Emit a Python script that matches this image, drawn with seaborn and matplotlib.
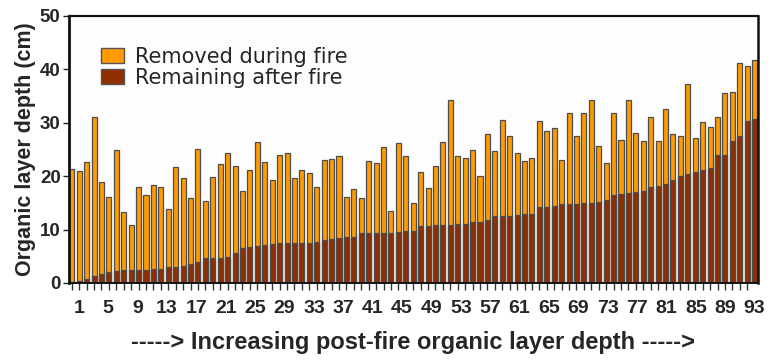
import matplotlib
matplotlib.use("Agg")
import matplotlib.pyplot as plt
import numpy as np
import pandas as pd
import seaborn as sns
from matplotlib.patches import Patch

sites = list(range(1, 94))
total_depth = [
    21.3, 20.9, 22.7, 31.1, 18.9, 16.0, 24.9, 13.3, 10.8, 18.0,
    16.5, 18.4, 18.0, 13.8, 21.7, 19.7, 15.9, 25.0, 15.3, 19.9,
    22.3, 24.3, 21.8, 17.3, 21.1, 26.4, 22.7, 19.2, 24.0, 24.3,
    19.7, 21.1, 20.6, 17.9, 23.1, 23.2, 23.7, 16.0, 17.6, 15.9,
    22.9, 22.4, 25.4, 13.5, 26.2, 23.7, 15.0, 20.7, 17.7, 21.9,
    26.4, 34.2, 23.7, 23.4, 24.9, 20.0, 27.8, 24.7, 30.5, 27.6,
    24.3, 22.8, 23.4, 30.4, 28.4, 29.0, 23.1, 31.9, 27.6, 31.8,
    34.3, 25.6, 22.4, 31.9, 26.8, 34.2, 28.1, 26.5, 31.0, 26.5,
    32.6, 27.8, 27.6, 37.3, 27.1, 30.1, 29.2, 31.0, 35.5, 35.8,
    41.1, 40.7, 41.8,
]
remaining_depth = [
    0.1, 0.4, 0.8, 1.3, 1.6, 2.0, 2.2, 2.4, 2.5, 2.5,
    2.5, 2.6, 2.6, 2.9, 3.0, 3.1, 3.5, 4.0, 4.6, 4.6,
    4.7, 4.9, 5.6, 6.6, 6.8, 6.9, 7.1, 7.2, 7.4, 7.4,
    7.5, 7.5, 7.5, 7.6, 8.0, 8.3, 8.5, 8.6, 8.6, 9.3,
    9.3, 9.3, 9.4, 9.4, 9.5, 9.7, 9.8, 10.6, 10.6, 10.8,
    10.8, 10.8, 11.0, 11.0, 11.4, 11.5, 11.8, 12.6, 12.6, 12.6,
    12.7, 12.9, 12.9, 14.2, 14.3, 14.4, 14.7, 14.7, 14.7, 14.9,
    15.0, 15.1, 15.6, 16.4, 16.7, 16.8, 17.0, 17.3, 17.9, 18.1,
    18.6, 19.3, 20.1, 20.4, 20.7, 21.1, 21.5, 23.9, 24.0, 26.6,
    27.6, 30.3, 30.6,
]
y_ticks = [0, 10, 20, 30, 40, 50]
x_label_sites = sites[::4]
legend_labels = ["Removed during fire", "Remaining after fire"]
x_label = "-----> Increasing post-fire organic layer depth ----->"
y_label = "Organic layer depth (cm)"

ORANGE = "#ff9a00"
BROWN = "#8f2e00"
EDGE = "#4d4d4d"

df = pd.DataFrame({
    "site": [str(s) for s in sites],
    "total": total_depth,
    "remaining": remaining_depth,
})
order = [str(s) for s in sites]

sns.set_style("white")
plt.rcParams["font.family"] = ["Liberation Sans", "DejaVu Sans"]

fig = plt.figure(figsize=(7.75, 3.6), dpi=100)
ax = fig.add_axes([0.089, 0.214, 0.889, 0.742])
ax.set_facecolor("#fdfdfd")

sns.barplot(data=df, x="site", y="total", order=order, color=ORANGE,
            saturation=1, width=0.68, edgecolor=EDGE, linewidth=0.9,
            errorbar=None, ax=ax)
sns.barplot(data=df, x="site", y="remaining", order=order, color=BROWN,
            saturation=1, width=0.68, edgecolor=EDGE, linewidth=0.9,
            errorbar=None, ax=ax)

n = len(sites)
ax.set_xlim(-0.38, n - 0.55)
ax.set_ylim(0, 50)
ax.set_yticks(y_ticks)
ax.set_yticklabels([str(v) for v in y_ticks], fontsize=13.5, fontweight="bold")

# tick marks under every bar (minor), labels every 4th site (major, no mark)
ax.set_xticks(range(n), minor=True)
label_pos = [(s - 1) + 0.95 * (1 - (s - 1) / (n - 1)) for s in x_label_sites]
ax.set_xticks(label_pos)
ax.set_xticklabels([str(s) for s in x_label_sites], fontsize=14,
                   fontweight="bold",
                   family=["Liberation Sans Narrow", "Liberation Sans"])
ax.tick_params(axis="x", which="major", bottom=True, length=0, pad=12)
ax.tick_params(axis="x", which="minor", bottom=True, direction="out",
               length=5, width=1.0, color="#333333")
ax.tick_params(axis="y", which="major", left=True, direction="out",
               length=4, width=1.0, color="#222222", pad=2)

for side, lw in [("left", 2.0), ("top", 1.6), ("right", 1.8), ("bottom", 1.4)]:
    ax.spines[side].set_visible(True)
    ax.spines[side].set_color("#111111")
    ax.spines[side].set_linewidth(lw)

ax.set_ylabel(y_label, fontsize=15.5, fontweight="bold", labelpad=3)
ax.set_xlabel(x_label, fontsize=17, fontweight="bold", labelpad=10,
              family=["Liberation Sans Narrow", "Liberation Sans"])

handles = [Patch(facecolor=ORANGE, edgecolor="#555555", linewidth=1.0),
           Patch(facecolor=BROWN, edgecolor="#555555", linewidth=1.0)]
ax.legend(handles, legend_labels, loc="upper left",
          bbox_to_anchor=(0.035, 0.915), frameon=False,
          prop={"family": "DejaVu Sans", "size": 15},
          handlelength=1.1, handleheight=0.75, labelspacing=0.05,
          handletextpad=0.5, borderaxespad=0)

fig.savefig("out.png", dpi=100, facecolor="white")
